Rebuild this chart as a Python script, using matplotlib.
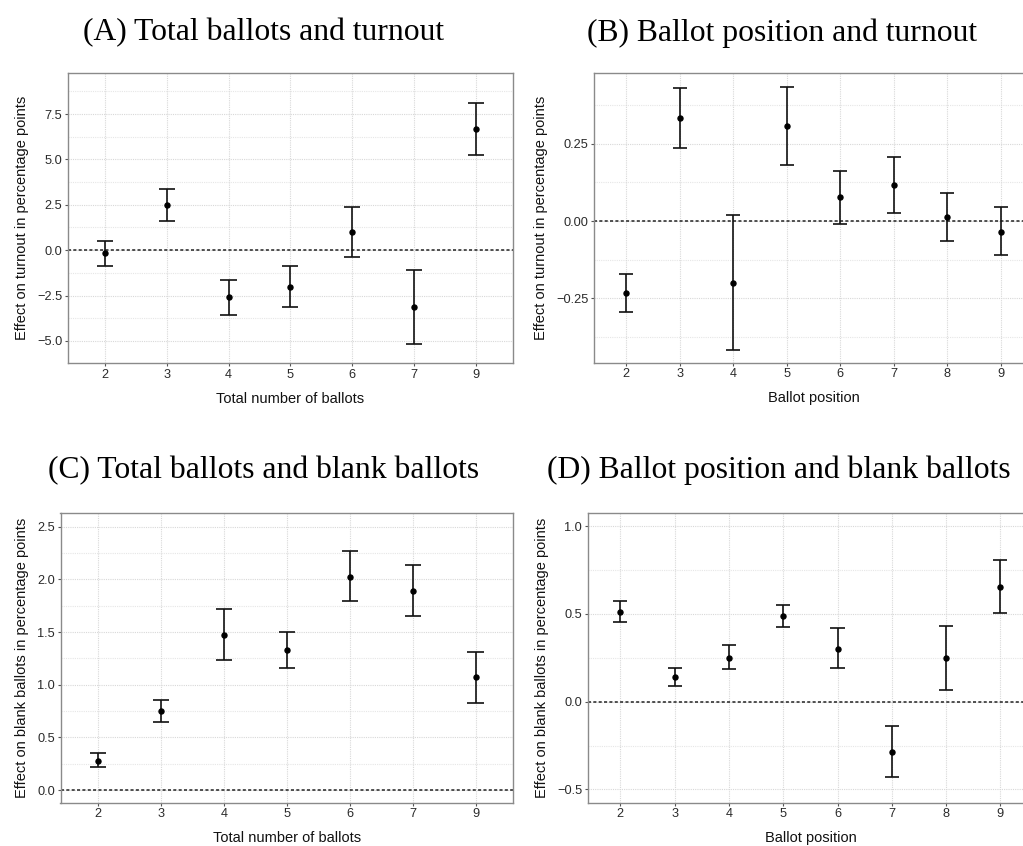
import matplotlib
matplotlib.use('Agg')
import matplotlib.pyplot as plt
import numpy as np

# (A) effect of total number of ballots on turnout
total_ballots = ['2', '3', '4', '5', '6', '7', '9']
turnout_est = [-0.18, 2.50, -2.57, -2.02, 1.01, -3.12, 6.68]
turnout_lo = [-0.90, 1.63, -3.58, -3.16, -0.37, -5.18, 5.23]
turnout_hi = [0.53, 3.38, -1.62, -0.86, 2.37, -1.08, 8.11]

# (B) effect of ballot position on turnout
positions = ['2', '3', '4', '5', '6', '7', '8', '9']
pos_turnout_est = [-0.232, 0.334, -0.199, 0.308, 0.079, 0.117, 0.014, -0.034]
pos_turnout_lo = [-0.295, 0.238, -0.416, 0.180, -0.008, 0.026, -0.065, -0.110]
pos_turnout_hi = [-0.170, 0.430, 0.020, 0.435, 0.162, 0.208, 0.092, 0.044]

# (C) effect of total number of ballots on blank ballots
blank_est = [0.278, 0.753, 1.475, 1.332, 2.025, 1.892, 1.076]
blank_lo = [0.215, 0.646, 1.231, 1.155, 1.791, 1.649, 0.829]
blank_hi = [0.351, 0.854, 1.718, 1.503, 2.269, 2.139, 1.313]

# (D) effect of ballot position on blank ballots
pos_blank_est = [0.513, 0.143, 0.251, 0.490, 0.302, -0.285, 0.251, 0.656]
pos_blank_lo = [0.452, 0.089, 0.184, 0.428, 0.194, -0.428, 0.068, 0.504]
pos_blank_hi = [0.572, 0.190, 0.321, 0.551, 0.418, -0.141, 0.430, 0.810]

W, H = 1023, 846
fig = plt.figure(figsize=(W / 100, H / 100), dpi=100)
plt.rcParams['font.family'] = 'Liberation Sans'


def px_axes(left, top, right, bottom):
    return fig.add_axes([left / W, 1 - bottom / H, (right - left) / W, (bottom - top) / H])


def draw_panel(ax, cats, est, lo, hi, ylim, major, minor, fmt, xlabel, ylabel):
    x = np.arange(len(cats))
    ax.set_xlim(-0.6, len(cats) - 0.4)
    ax.set_ylim(*ylim)
    for y in minor:
        ax.axhline(y, color='#e6e6e6', lw=0.8, ls=(0, (1, 1)), zorder=0)
    for y in major:
        ax.axhline(y, color='#d8d8d8', lw=0.8, ls=(0, (1, 1)), zorder=0)
    for xi in x:
        ax.axvline(xi, color='#d8d8d8', lw=0.8, ls=(0, (1, 1)), zorder=0)
    ax.axhline(0, color='#222222', lw=1.1, ls=(0, (2, 1.5)), zorder=1)
    ax.vlines(x, lo, hi, color='#111111', lw=1.2, zorder=2)
    ax.hlines(lo, x - 0.13, x + 0.13, color='#111111', lw=1.2, zorder=2)
    ax.hlines(hi, x - 0.13, x + 0.13, color='#111111', lw=1.2, zorder=2)
    ax.plot(x, est, 'o', color='black', ms=3.6, zorder=3)
    ax.set_xticks(x)
    ax.set_xticklabels(cats)
    ax.set_yticks(major)
    ax.set_yticklabels([fmt.format(v).replace('-', '\u2212') for v in major])
    ax.tick_params(length=2.5, width=0.8, color='#555555', labelsize=9.2,
                   labelcolor='#2a2a2a', pad=1.5)
    for s in ax.spines.values():
        s.set_color('#8a8a8a')
        s.set_linewidth(1.0)
    ax.set_xlabel(xlabel, fontsize=10.5, labelpad=8, color='#111111')
    ax.set_ylabel(ylabel, fontsize=10.5, labelpad=6, color='#111111')


axA = px_axes(67.7, 73.3, 513, 363)
draw_panel(axA, total_ballots, turnout_est, turnout_lo, turnout_hi,
           (-6.22, 9.75), [-5, -2.5, 0, 2.5, 5, 7.5],
           [-3.75, -1.25, 1.25, 3.75, 6.25, 8.75], '{:.1f}',
           'Total number of ballots', 'Effect on turnout in percentage points')

axB = px_axes(594.2, 73.3, 1033, 362.7)
draw_panel(axB, positions, pos_turnout_est, pos_turnout_lo, pos_turnout_hi,
           (-0.458, 0.478), [-0.25, 0, 0.25],
           [-0.375, -0.125, 0.125, 0.375], '{:.2f}',
           'Ballot position', 'Effect on turnout in percentage points')

axC = px_axes(60.5, 513.3, 513.3, 802.7)
draw_panel(axC, total_ballots, blank_est, blank_lo, blank_hi,
           (-0.12, 2.627), [0, 0.5, 1, 1.5, 2, 2.5],
           [0.25, 0.75, 1.25, 1.75, 2.25], '{:.1f}',
           'Total number of ballots', 'Effect on blank ballots in percentage points')

axD = px_axes(587.8, 513.3, 1033, 802.7)
draw_panel(axD, positions, pos_blank_est, pos_blank_lo, pos_blank_hi,
           (-0.576, 1.074), [-0.5, 0, 0.5, 1.0],
           [-0.25, 0.25, 0.75], '{:.1f}',
           'Ballot position', 'Effect on blank ballots in percentage points')

titles = [('(A) Total ballots and turnout', 264, 40.5),
          ('(B) Ballot position and turnout', 782, 40.5),
          ('(C) Total ballots and blank ballots', 264, 478),
          ('(D) Ballot position and blank ballots', 779, 478)]
for txt, cx, base in titles:
    fig.text(cx / W, 1 - base / H, txt, ha='center', va='baseline',
             fontsize=22.8, family='Liberation Serif', color='black')

fig.savefig('out.png', dpi=100)
